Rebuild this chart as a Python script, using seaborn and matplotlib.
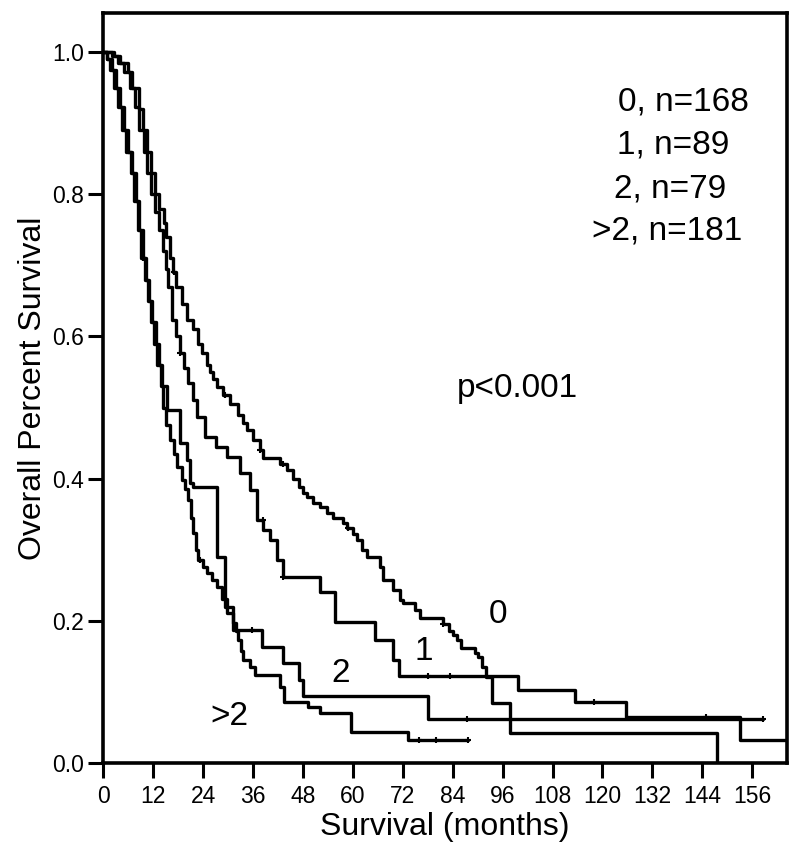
import numpy as np
import pandas as pd
import matplotlib
matplotlib.use("Agg")
import matplotlib.pyplot as plt
import seaborn as sns

# Kaplan-Meier Kurven (Monate, Überlebensanteil)
t_0 = [0, 2.5, 4, 6, 7, 8.5, 9.5, 10.5, 11.5, 12.5, 13.5, 14.5, 15.2, 16, 16.8, 17.5, 19, 20.2,
       21.5, 22.8, 23.8, 25, 25.7, 26.5, 27.4, 28.8, 30.5, 32.5, 33.5, 34.6, 36, 37.7, 38.5, 42.5,
       44.2, 45.5, 47, 48, 49, 50.5, 52, 53.8, 55.3, 57.7, 58.6, 60, 61, 62.3, 63.5, 66.6, 67.3,
       69.7, 71.4, 72, 75, 76.2, 81.7, 83, 84, 85, 86, 89.4, 90, 91, 92, 93.5, 97.8, 147.6]
s_0 = [1.0, 0.995, 0.985, 0.972, 0.95, 0.92, 0.89, 0.86, 0.83, 0.80, 0.78, 0.76, 0.74, 0.71, 0.69,
       0.67, 0.645, 0.623, 0.61, 0.59, 0.577, 0.56, 0.55, 0.54, 0.529, 0.518, 0.505, 0.49, 0.478,
       0.468, 0.455, 0.44, 0.429, 0.42, 0.412, 0.40, 0.388, 0.38, 0.374, 0.366, 0.36, 0.352, 0.345,
       0.337, 0.33, 0.322, 0.314, 0.30, 0.29, 0.276, 0.257, 0.243, 0.229, 0.225, 0.215, 0.204,
       0.195, 0.186, 0.18, 0.173, 0.162, 0.155, 0.149, 0.135, 0.121, 0.084, 0.042, 0.0]

t_1 = [0, 2, 3.5, 5, 6.5, 7.7, 8.7, 9.7, 10.5, 11.5, 12.5, 13.3, 14.3, 15, 15.6, 16.6, 17.5, 18.5,
       19.5, 20.4, 21.5, 22.6, 24.5, 27, 29.8, 33, 35.3, 37, 38.5, 40, 41.8, 43.3, 52.2, 55.8,
       65.4, 69.7, 71, 99.8, 113.5, 125.7, 153, 165]
s_1 = [1.0, 0.995, 0.985, 0.972, 0.95, 0.923, 0.89, 0.86, 0.83, 0.80, 0.775, 0.75, 0.72, 0.695,
       0.67, 0.623, 0.60, 0.577, 0.555, 0.535, 0.51, 0.487, 0.459, 0.445, 0.43, 0.408, 0.384,
       0.342, 0.328, 0.314, 0.286, 0.262, 0.24, 0.198, 0.173, 0.145, 0.122, 0.103, 0.086, 0.065,
       0.032, 0.032]

t_2 = [0, 1, 2, 3, 4, 5, 6, 7, 7.8, 8.7, 9.6, 10.3, 11, 11.8, 12.7, 13.4, 14.2, 15.3, 18.5, 20.2,
       20.9, 21.6, 27.4, 29.3, 31.3, 38.2, 43.3, 47, 48, 78, 158.6]
s_2 = [1.0, 0.99, 0.975, 0.95, 0.923, 0.89, 0.86, 0.83, 0.79, 0.75, 0.71, 0.68, 0.65, 0.62, 0.59,
       0.56, 0.53, 0.497, 0.45, 0.426, 0.394, 0.388, 0.29, 0.22, 0.187, 0.163, 0.14, 0.117, 0.094,
       0.062, 0.062]

t_3 = [0, 0.8, 1.6, 2.6, 3.6, 4.6, 5.6, 6.6, 7.4, 8.3, 9.2, 10, 10.7, 11.5, 12.3, 13, 13.8, 14.4,
       15.2, 16.1, 17, 17.8, 19, 19.7, 20.4, 21, 21.6, 22.3, 22.8, 24, 25, 26.2, 27.4, 28.6, 29.8,
       31.3, 32, 32.5, 33.2, 33.7, 35.3, 36.5, 42.5, 43.5, 49.3, 52.2, 59.6, 73.3, 87.7]
s_3 = [1.0, 0.99, 0.975, 0.95, 0.923, 0.89, 0.86, 0.83, 0.79, 0.75, 0.71, 0.68, 0.65, 0.62, 0.59,
       0.56, 0.53, 0.50, 0.475, 0.454, 0.435, 0.416, 0.398, 0.385, 0.37, 0.345, 0.323, 0.30, 0.286,
       0.276, 0.267, 0.258, 0.248, 0.23, 0.211, 0.197, 0.185, 0.173, 0.158, 0.145, 0.135, 0.124,
       0.107, 0.086, 0.079, 0.070, 0.044, 0.032, 0.032]

# zensierte Fälle (Monate)
cens_0 = [17, 29.3, 37.7, 43.3, 58.9, 81.7]
cens_1 = [18.5, 38.3, 43.3, 78, 83.4, 118, 145]
cens_2 = [9.6, 35.8, 87.5, 158.6]
cens_3 = [23.3, 76, 80, 87.7]

group_labels = ["0", "1", "2", ">2"]
legend_lines = ["0, n=168", "1, n=89", "2, n=79", ">2, n=181"]
x_ticks = list(range(0, 157, 12))
y_ticks = [0.0, 0.2, 0.4, 0.6, 0.8, 1.0]

sns.set_style("ticks")
plt.rcParams["font.family"] = ["Liberation Sans", "DejaVu Sans"]
plt.rcParams["text.color"] = "black"

fig = plt.figure(figsize=(8, 8.68), dpi=100)
ax = fig.add_axes([0.129, 0.121, 0.855, 0.864])

curves = [(t_0, s_0, cens_0), (t_1, s_1, cens_1), (t_2, s_2, cens_2), (t_3, s_3, cens_3)]
for tt, ss, cc in curves:
    df = pd.DataFrame({"months": tt, "survival": ss})
    sns.lineplot(data=df, x="months", y="survival", drawstyle="steps-post",
                 estimator=None, sort=False, color="black", lw=2.4, ax=ax)
    # Zensurmarken auf die Kurve setzen
    idx = np.searchsorted(np.array(tt), np.array(cc), side="right") - 1
    ax.plot(cc, np.array(ss)[idx], "+", color="black", ms=5, mew=1.5)

ax.set_xlim(0, 164.4)
ax.set_ylim(0, 1.055)
ax.set_xticks(x_ticks)
ax.set_yticks(y_ticks)
ax.set_yticklabels([f"{v:.1f}" for v in y_ticks])
ax.tick_params(axis="both", direction="out", length=11, width=2.2, color="black",
               labelsize=16.5, labelcolor="black", bottom=True, left=True)
ax.tick_params(axis="x", pad=5)
ax.tick_params(axis="y", pad=3)
for sp in ax.spines.values():
    sp.set_visible(True)
    sp.set_color("black")
    sp.set_linewidth(2.6)

ax.set_xlabel("Survival (months)", fontsize=23, labelpad=3, color="black")
ax.set_ylabel("Overall Percent Survival", fontsize=23, labelpad=3, color="black")

# Legende als Textblock
leg_x = [139.5, 137.0, 136.2, 135.6]
leg_y = [0.918, 0.858, 0.796, 0.736]
for txt, lx, ly in zip(legend_lines, leg_x, leg_y):
    ax.text(lx, ly, txt, fontsize=24, ha="center", va="baseline", color="black")

ax.text(99.5, 0.515, "p<0.001", fontsize=24, ha="center", va="baseline", color="black")

# Kurvenbeschriftungen
lab_x = [95, 77, 57, 30.4]
lab_y = [0.197, 0.145, 0.114, 0.053]
for txt, lx, ly in zip(group_labels, lab_x, lab_y):
    ax.text(lx, ly, txt, fontsize=24, ha="center", va="baseline", color="black")

fig.savefig("out.png", dpi=100)
